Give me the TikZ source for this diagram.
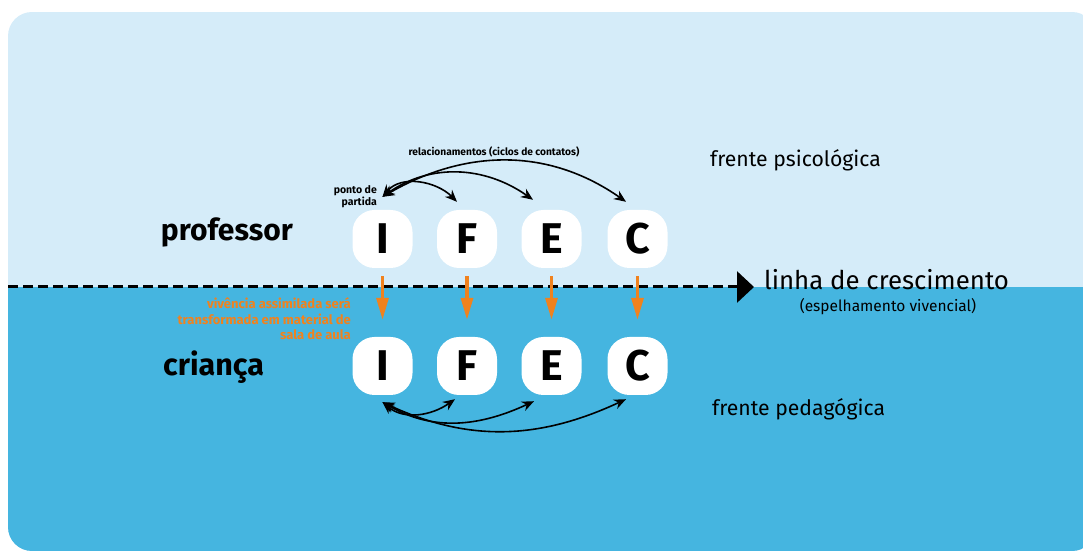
\documentclass[tikz,border=0pt]{standalone}
\usepackage{fontspec}
\setmainfont{Fira Sans}
\usetikzlibrary{arrows.meta,positioning}

\definecolor{hellblau}{HTML}{D5ECF9}
\definecolor{dunkelblau}{HTML}{45B5E0}
\definecolor{orangeton}{HTML}{F0821E}

\begin{document}
\begin{tikzpicture}[x=1pt,y=1pt,
   letra/.style={fill=white,rounded corners=22pt,minimum width=60pt,minimum height=58pt,
      inner sep=0pt,font=\fontsize{43}{43}\selectfont\bfseries},
   texto/.style={inner sep=0pt},
   ciclo/.style={line width=1.6pt,{Stealth[length=12pt,width=10pt]}-{Stealth[length=12pt,width=10pt]}},
   vivencia/.style={orangeton,line width=3.2pt,-{Triangle[length=22pt,width=12pt]}}]
   \useasboundingbox (0,0) rectangle (1083,551);

   %% Hintergrund
   \begin{scope}
      \clip[rounded corners=24pt] (8,0) rectangle (1096,539);
      \fill[hellblau] (8,0) rectangle (1096,539);
      \fill[dunkelblau] (8,0) rectangle (1096,264);
   \end{scope}

   %% Wachstumslinie
   \coordinate (linhainicio) at (8,264);
   \coordinate (linhafim) at (754,264);
   \draw[line width=3pt,dash pattern=on 10pt off 5pt,-{Triangle[length=17pt,width=31pt]}] (linhainicio) -- (linhafim);

   %% Buchstaben
   \node[letra] (I1) at (382.5,312) {I};
   \node[letra] (F1) at (467,312) {F};
   \node[letra] (E1) at (551.5,312) {E};
   \node[letra] (C1) at (637.5,312) {C};

   \node[letra] (I2) at (382.5,185) {I};
   \node[letra] (F2) at (467,185) {F};
   \node[letra] (E2) at (551.5,185) {E};
   \node[letra] (C2) at (637.5,185) {C};

   \foreach \n in {I,F,E,C}
      \draw[vivencia,shorten <=8pt,shorten >=17pt] (\n1.south) -- (\n2.north);

   %% Zyklen oben
   \coordinate (partida) at ([yshift=13pt]I1.north);
   \coordinate (topoF) at ([shift={(-10pt,8pt)}]F1.north);
   \coordinate (topoE) at ([shift={(-18.5pt,10pt)}]E1.north);
   \coordinate (topoC) at ([shift={(-11.5pt,8pt)}]C1.north);
   \draw[ciclo] (partida) to[out=50,in=135] (topoF);
   \draw[ciclo] (partida) to[out=35,in=145] (topoE);
   \draw[ciclo] (partida) to[out=30,in=145] (topoC);

   %% Zyklen unten
   \coordinate (base) at ([yshift=-7pt]I2.south);
   \coordinate (baseF) at ([shift={(-12pt,-4pt)}]F2.south);
   \coordinate (baseE) at ([shift={(-17.5pt,-6pt)}]E2.south);
   \coordinate (baseC) at ([shift={(-11.5pt,-4pt)}]C2.south);
   \draw[ciclo] (base) to[out=-40,in=-145] (baseF);
   \draw[ciclo] (base) to[out=-30,in=-155] (baseE);
   \draw[ciclo] (base) to[out=-25,in=-155] (baseC);

   %% Beschriftung
   \node[texto,font=\fontsize{30}{30}\selectfont\bfseries,anchor=base east] (professor) at (293,310) {professor};
   \node[texto,font=\fontsize{30.5}{30}\selectfont\bfseries,anchor=base west] (crianca) at (163,175) {criança};
   \node[texto,font=\fontsize{21.2}{21}\selectfont,anchor=base west] (psico) at (710,384) {frente psicológica};
   \node[texto,font=\fontsize{21.2}{21}\selectfont,anchor=base west] (pedago) at (712,135) {frente pedagógica};
   \node[texto,font=\fontsize{25.8}{26}\selectfont,anchor=base west] (linha) at (764,261) {linha de crescimento};
   \node[texto,font=\fontsize{15.5}{15}\selectfont,anchor=base] (espelho) at (888,239) {(espelhamento vivencial)};
   \node[texto,font=\fontsize{10.2}{11}\selectfont\bfseries] (relac) at (494,399) {relacionamentos (ciclos de contatos)};
   \node[texto,font=\fontsize{10.5}{12}\selectfont\bfseries,align=right,anchor=east] (ponto) at (377,354) {ponto de\\partida};
   \node[texto,orangeton,font=\fontsize{13}{15.5}\selectfont\bfseries,align=right,anchor=east] (vivtexto) at (351,232)
      {vivência assimilada será\\transformada em material de\\sala de aula};
\end{tikzpicture}
\end{document}
